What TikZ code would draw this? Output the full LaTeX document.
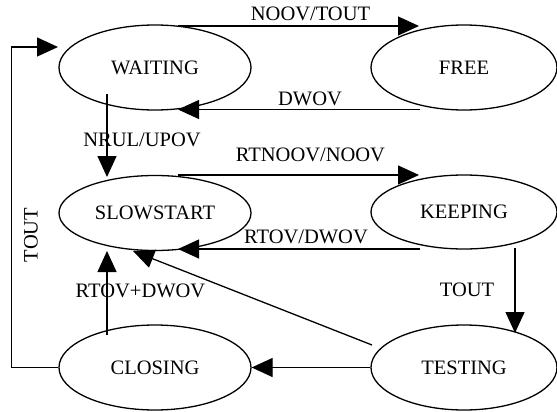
\documentclass[tikz,border=0pt]{standalone}
\usepackage{fontspec}
\setmainfont{Liberation Serif}
\usetikzlibrary{arrows.meta,calc,shapes.geometric}
\begin{document}
\begin{tikzpicture}[x=1pt,y=-1pt,
  state/.style={ellipse,draw,line width=1.3pt,minimum width=192pt,minimum height=85pt,
                inner sep=0pt,font=\fontsize{20.5}{23}\selectfont},
  flatstate/.style={state,minimum height=75pt},
  flow/.style={line width=1.3pt,-{Triangle[length=21pt,width=19pt]}},
  lbl/.style={inner sep=0pt,font=\fontsize{20.5}{23}\selectfont}]
\useasboundingbox (0,0) rectangle (557,412);

% states
\node[state]     (waiting) at (155,67.5)  {WAITING};
\node[state,minimum width=186pt] (free) at (464,67.5) {FREE};
\node[flatstate] (slow)    at (155,213)   {SLOWSTART};
\node[flatstate,minimum width=186pt,minimum height=74pt] (keep) at (464,212) {KEEPING};
\node[state]     (closing) at (155,367.5) {CLOSING};
\node[state,minimum width=186pt] (testing) at (464,367.5) {TESTING};

% transitions
\draw[flow] ($(waiting)+(23,-41.5)$) -- ($(free)+(-45,-41.5)$);
\draw[flow] ($(free)+(-44,42)$) -- ($(waiting)+(23,42)$);
\draw[flow] ($(waiting)+(-48,26.5)$) -- ($(slow)+(-48,-36)$);
\draw[flow] ($(slow)+(23,-38)$) -- ($(keep)+(-45,-37)$);
\draw[flow] ($(keep)+(-44,37)$) -- ($(slow)+(23,36)$);
\draw[flow] ($(keep)+(51,36)$) -- ($(testing)+(51,-34.5)$);
\draw[flow] ($(testing)+(-92,-22.5)$) -- ($(slow)+(-22,38)$);
\draw[flow] (testing.west) -- (closing.east);
\draw[flow] ($(closing)+(-48,-32.5)$) -- ($(slow)+(-48,38)$);
\draw[flow] (closing.west) -- ++(-47,0) |- ($(waiting)+(-97,-20.5)$);

% transition labels
\node[lbl] (l1) at (310.5,14)  {NOOV/TOUT};
\node[lbl] (l2) at (310,98.5)  {DWOV};
\node[lbl] (l3) at (142,140)   {NRUL/UPOV};
\node[lbl] (l4) at (310.5,154.5) {RTNOOV/NOOV};
\node[lbl] (l5) at (306,237)   {RTOV/DWOV};
\node[lbl] (l6) at (467,289.5) {TOUT};
\node[lbl] (l7) at (140.5,291) {RTOV+DWOV};
\node[lbl,rotate=90] (l8) at (31,235) {TOUT};
\end{tikzpicture}
\end{document}
